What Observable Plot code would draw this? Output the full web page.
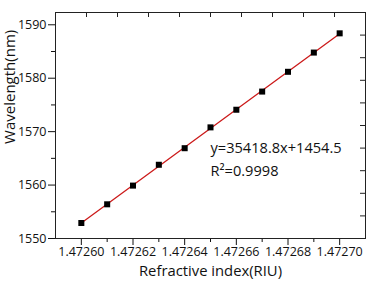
<!DOCTYPE html>
<html>
<head>
<meta charset="utf-8">
<script src="https://cdn.jsdelivr.net/npm/d3@7"></script>
<script src="https://cdn.jsdelivr.net/npm/@observablehq/plot@0.6"></script>
<style>
  html, body { margin: 0; padding: 0; background: #fff; }
</style>
</head>
<body>
<div id="chart"></div>
<script>
const refractiveIndex = [1.47260, 1.47261, 1.47262, 1.47263, 1.47264, 1.47265, 1.47266, 1.47267, 1.47268, 1.47269, 1.47270];
const wavelength = [1552.9, 1556.4, 1559.9, 1563.8, 1566.9, 1570.8, 1574.1, 1577.5, 1581.2, 1584.8, 1588.4];
const xMajorTicks = [1.47260, 1.47262, 1.47264, 1.47266, 1.47268, 1.47270];
const xMinorTicks = [1.47261, 1.47263, 1.47265, 1.47267, 1.47269];
const yMajorTicks = [1550, 1560, 1570, 1580, 1590];
const yMinorTicks = [1555, 1565, 1575, 1585];
const xDomain = [1.47259, 1.47271];
const yDomain = [1550, 1592.3];
const annotations = ["y=35418.8x+1454.5", "R\u00b2=0.9998"];
const annotationX = [1.47265, 1.47265];
const annotationY = [1566.9, 1562.5];
const xLabel = "Refractive index(RIU)";
const yLabel = "Wavelength(nm)";
const yLabelCenter = 1567.7;

const data = refractiveIndex.map((x, i) => ({x, y: wavelength[i]}));
const ann = annotations.map((t, i) => ({t, x: annotationX[i], y: annotationY[i]}));
// top/right decorative ticks divide the frame into 10 equal parts
const topTicks = d3.range(1, 10).map(k => xDomain[0] + k * (xDomain[1] - xDomain[0]) / 10);
const rightTicks = d3.range(1, 10).map(k => yDomain[0] + k * (yDomain[1] - yDomain[0]) / 10);

const W = 368, H = 283, mt = 12, mb = 45, ml = 55, mr = 3;
const ph = H - mt - mb, pw = W - ml - mr;

const chart = Plot.plot({
  width: W,
  height: H,
  marginTop: mt,
  marginBottom: mb,
  marginLeft: ml,
  marginRight: mr,
  style: {fontFamily: "'Open Sans', sans-serif", fontSize: "12.5px", color: "#111", background: "#fff"},
  x: {domain: xDomain},
  y: {domain: yDomain},
  marks: [
    Plot.axisX({ticks: xMajorTicks, tickFormat: d => d.toFixed(5), tickSize: 7, tickPadding: 2, label: null, fontSize: 12.5}),
    Plot.axisX({ticks: xMinorTicks, tickFormat: () => "", tickSize: 4, label: null}),
    Plot.axisY({ticks: yMajorTicks, tickFormat: d => String(d), tickSize: 7, tickPadding: 2, label: null, fontSize: 12.5}),
    Plot.axisY({ticks: yMinorTicks, tickFormat: () => "", tickSize: 4, label: null}),
    Plot.ruleX(topTicks, {x: d => d, insetBottom: ph - 5, stroke: "#222"}),
    Plot.ruleY(rightTicks, {y: d => d, insetLeft: pw - 5, stroke: "#222"}),
    Plot.frame({stroke: "#222", strokeWidth: 1}),
    Plot.linearRegressionY(data, {x: "x", y: "y", stroke: "#cc1a1a", strokeWidth: 1.3, ci: 0}),
    Plot.dot(data, {x: "x", y: "y", symbol: "square", fill: "#000", r: 3.4}),
    Plot.text(ann, {x: "x", y: "y", text: "t", textAnchor: "start", fontSize: 14.6, fill: "#111"}),
    Plot.text([xLabel], {frameAnchor: "bottom", dy: 37, fontSize: 14.8, fill: "#111"}),
    Plot.text([yLabel], {y: () => yLabelCenter, frameAnchor: "left", dx: -45, rotate: -90, fontSize: 15, fill: "#111"})
  ]
});
document.getElementById("chart").appendChild(chart);
</script>
</body>
</html>
